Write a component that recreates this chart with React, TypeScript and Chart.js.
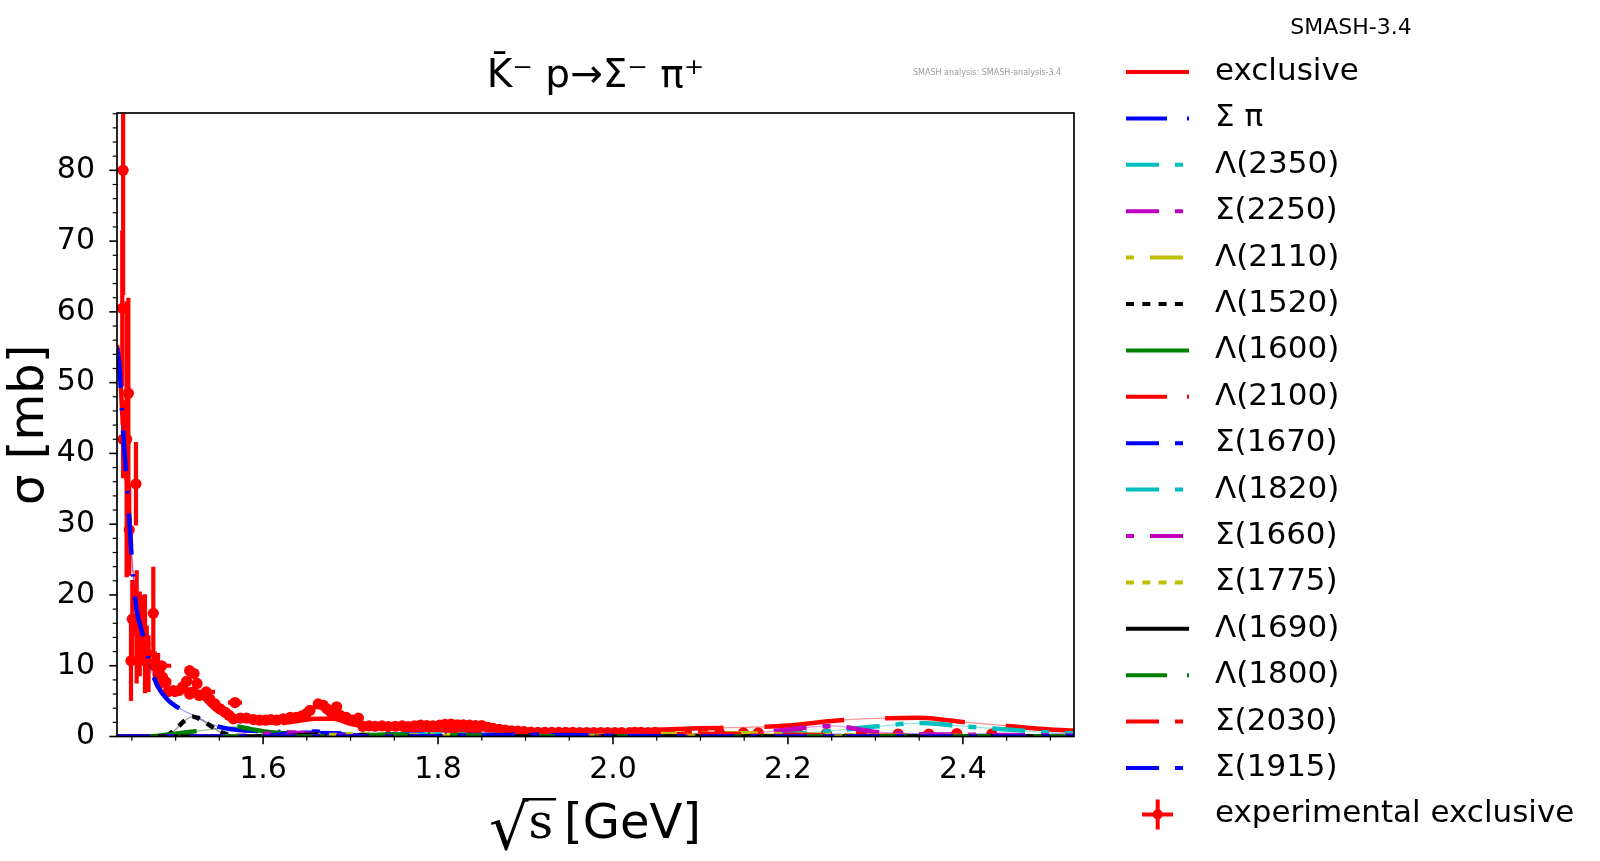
import { useEffect, useRef } from "react"
import { Chart, registerables } from "chart.js"

Chart.register(...registerables)

// sqrt(s) grid of the model curves [GeV]
const energies = [
  1.433, 1.436, 1.44, 1.445, 1.45, 1.455, 1.46, 1.465, 1.47, 1.48,
  1.49, 1.5, 1.51, 1.52, 1.53, 1.54, 1.55, 1.56, 1.57, 1.58,
  1.59, 1.6, 1.62, 1.64, 1.66, 1.68, 1.7, 1.72, 1.75, 1.8,
  1.85, 1.9, 1.95, 2.0, 2.05, 2.1, 2.15, 2.2, 2.25, 2.3,
  2.35, 2.4, 2.45, 2.5, 2.527,
]

// model cross sections [mb]
const exclusive = [
  55.3, 52.4, 43.5, 35.0, 25.5, 18.7, 16.0, 13.7, 10.7, 7.5,
  5.9, 5.9, 6.5, 6.7, 5.7, 4.4, 3.4, 2.9, 2.6, 2.3,
  2.0, 1.9, 1.9, 2.2, 2.5, 2.5, 1.8, 1.3, 1.0, 0.9,
  0.7, 0.6, 0.6, 0.65, 0.95, 1.15, 1.3, 1.55, 2.2, 2.55,
  2.65, 2.05, 1.5, 1.0, 0.85,
]
const sigmaPi = [
  55.0, 52.0, 43.0, 34.5, 25.0, 18.2, 15.5, 13.2, 10.2, 7.0,
  5.3, 4.3, 3.6, 3.0, 2.4, 1.8, 1.35, 1.1, 0.95, 0.85,
  0.8, 0.75, 0.65, 0.55, 0.5, 0.45, 0.4, 0.35, 0.3, 0.25,
  0.2, 0.18, 0.15, 0.13, 0.12, 0.11, 0.1, 0.09, 0.08, 0.08,
  0.07, 0.07, 0.06, 0.06, 0.06,
]
const lambda2350 = [
  0, 0, 0, 0, 0, 0, 0, 0, 0, 0,
  0, 0, 0, 0, 0, 0, 0, 0, 0, 0,
  0, 0, 0, 0, 0, 0, 0, 0, 0, 0,
  0, 0, 0.01, 0.02, 0.04, 0.08, 0.15, 0.35, 0.8, 1.4,
  1.9, 1.45, 1.0, 0.55, 0.45,
]
const sigma2250 = [
  0, 0, 0, 0, 0, 0, 0, 0, 0, 0,
  0, 0, 0, 0, 0, 0, 0, 0, 0, 0,
  0, 0, 0, 0, 0, 0, 0, 0, 0, 0,
  0, 0, 0, 0.02, 0.05, 0.12, 0.3, 1.0, 1.5, 0.65,
  0.35, 0.25, 0.2, 0.15, 0.12,
]
const lambda2110 = [
  0, 0, 0, 0, 0, 0, 0, 0, 0, 0,
  0, 0, 0, 0, 0, 0, 0, 0, 0, 0,
  0, 0, 0, 0, 0, 0, 0, 0, 0, 0,
  0, 0, 0.05, 0.15, 0.3, 0.45, 0.45, 0.3, 0.2, 0.12,
  0.08, 0.06, 0.05, 0.04, 0.04,
]
const lambda1520 = [
  0, 0, 0, 0, 0, 0, 0, 0, 0, 0.05,
  0.2, 1.0, 2.2, 2.8, 2.3, 1.5, 0.7, 0.25, 0.1, 0.05,
  0, 0, 0, 0, 0, 0, 0, 0, 0, 0,
  0, 0, 0, 0, 0, 0, 0, 0, 0, 0,
  0, 0, 0, 0, 0,
]
const lambda1600 = [
  0, 0, 0, 0, 0, 0, 0, 0, 0, 0.1,
  0.25, 0.4, 0.55, 0.7, 0.85, 1.0, 1.15, 1.3, 1.4, 1.2,
  0.95, 0.75, 0.5, 0.35, 0.25, 0.2, 0.15, 0.12, 0.1, 0.07,
  0.05, 0.04, 0.04, 0.03, 0.03, 0.03, 0.02, 0.02, 0.02, 0.02,
  0.02, 0.02, 0.02, 0.02, 0.02,
]
const lambda2100 = [
  0, 0, 0, 0, 0, 0, 0, 0, 0, 0,
  0, 0, 0, 0, 0, 0, 0, 0, 0, 0,
  0, 0, 0, 0, 0, 0, 0, 0, 0, 0,
  0, 0, 0.05, 0.15, 0.3, 0.4, 0.35, 0.25, 0.15, 0.1,
  0.07, 0.05, 0.04, 0.03, 0.03,
]
const sigma1670 = [
  0, 0, 0, 0, 0, 0, 0, 0, 0, 0,
  0, 0, 0, 0, 0, 0, 0, 0, 0, 0,
  0, 0.1, 0.3, 0.55, 0.7, 0.45, 0.2, 0.1, 0.05, 0.02,
  0, 0, 0, 0, 0, 0, 0, 0, 0, 0,
  0, 0, 0, 0, 0,
]
const lambda1820 = [
  0, 0, 0, 0, 0, 0, 0, 0, 0, 0,
  0, 0, 0, 0, 0, 0, 0, 0, 0, 0,
  0, 0, 0, 0, 0, 0, 0, 0, 0.1, 0.3,
  0.25, 0.12, 0.06, 0, 0, 0, 0, 0, 0, 0,
  0, 0, 0, 0, 0,
]
const sigma1660 = [
  0, 0, 0, 0, 0, 0, 0, 0, 0, 0,
  0, 0, 0, 0, 0, 0, 0, 0, 0, 0.1,
  0.2, 0.35, 0.6, 0.5, 0.3, 0.15, 0.08, 0.04, 0, 0,
  0, 0, 0, 0, 0, 0, 0, 0, 0, 0,
  0, 0, 0, 0, 0,
]
const sigma1775 = [
  0, 0, 0, 0, 0, 0, 0, 0, 0, 0,
  0, 0, 0, 0, 0, 0, 0, 0, 0, 0,
  0, 0, 0, 0, 0.1, 0.2, 0.3, 0.3, 0.25, 0.12,
  0.06, 0, 0, 0, 0, 0, 0, 0, 0, 0,
  0, 0, 0, 0, 0,
]
const lambda1690 = [
  0, 0, 0, 0, 0, 0, 0, 0, 0, 0,
  0, 0, 0, 0, 0, 0, 0, 0, 0, 0,
  0, 0, 0.05, 0.15, 0.3, 0.35, 0.3, 0.15, 0.07, 0,
  0, 0, 0, 0, 0, 0, 0, 0, 0, 0,
  0, 0, 0, 0, 0,
]
const lambda1800 = [
  0, 0, 0, 0, 0, 0, 0, 0, 0, 0,
  0, 0, 0, 0, 0, 0, 0, 0, 0, 0,
  0, 0, 0, 0, 0, 0, 0.1, 0.2, 0.3, 0.25,
  0.12, 0.06, 0, 0, 0, 0, 0, 0, 0, 0,
  0, 0, 0, 0, 0,
]
const sigma2030 = [
  0, 0, 0, 0, 0, 0, 0, 0, 0, 0,
  0, 0, 0, 0, 0, 0, 0, 0, 0, 0,
  0, 0, 0, 0, 0, 0, 0, 0, 0, 0,
  0, 0, 0.1, 0.25, 0.35, 0.25, 0.12, 0.06, 0, 0,
  0, 0, 0, 0, 0,
]
const sigma1915 = [
  0, 0, 0, 0, 0, 0, 0, 0, 0, 0,
  0, 0, 0, 0, 0, 0, 0, 0, 0, 0,
  0, 0, 0, 0, 0, 0, 0, 0, 0, 0.05,
  0.15, 0.25, 0.2, 0.1, 0.05, 0, 0, 0, 0, 0,
  0, 0, 0, 0, 0,
]

const seriesLabels = [
  "exclusive", "Σ π", "Λ(2350)", "Σ(2250)", "Λ(2110)", "Λ(1520)", "Λ(1600)", "Λ(2100)",
  "Σ(1670)", "Λ(1820)", "Σ(1660)", "Σ(1775)", "Λ(1690)", "Λ(1800)", "Σ(2030)", "Σ(1915)",
]
const seriesValues = [
  exclusive, sigmaPi, lambda2350, sigma2250, lambda2110, lambda1520, lambda1600, lambda2100,
  sigma1670, lambda1820, sigma1660, sigma1775, lambda1690, lambda1800, sigma2030, sigma1915,
]

// experimental exclusive data
const expEnergy = [
  1.44, 1.439, 1.446, 1.44, 1.444, 1.4547, 1.447, 1.4505, 1.449, 1.4745,
  1.4555, 1.459, 1.461, 1.465, 1.467, 1.469, 1.4764, 1.48, 1.484, 1.485,
  1.482, 1.489, 1.491, 1.497, 1.504, 1.508, 1.5126, 1.516, 1.521, 1.5245,
  1.516, 1.527, 1.535, 1.539, 1.545, 1.551, 1.557, 1.561, 1.5679, 1.566,
  1.574, 1.581, 1.589, 1.596, 1.603, 1.609, 1.6155, 1.623, 1.631, 1.638,
  1.644, 1.649, 1.6536, 1.663, 1.669, 1.673, 1.678, 1.684, 1.688, 1.695,
  1.702, 1.709, 1.714, 1.721, 1.728, 1.736, 1.743, 1.751, 1.759, 1.766,
  1.773, 1.78, 1.787, 1.794, 1.802, 1.808, 1.815, 1.822, 1.829, 1.836,
  1.843, 1.85, 1.857, 1.863, 1.87, 1.877, 1.884, 1.891, 1.898, 1.906,
  1.914, 1.922, 1.93, 1.938, 1.946, 1.954, 1.962, 1.97, 1.978, 1.986,
  1.994, 2.002, 2.01, 2.019, 2.025, 2.032, 2.04, 2.048, 2.065, 2.084,
  2.103, 2.122, 2.149, 2.166, 2.206, 2.212, 2.244, 2.284, 2.326, 2.361,
  2.393, 2.433,
]
const expSigma = [
  80.0, 60.5, 48.5, 42.0, 42.0, 35.7, 29.2, 16.6, 10.7, 17.4,
  15.5, 14.5, 15.0, 13.1, 11.7, 10.3, 10.0, 9.8, 10.0, 8.4,
  7.5, 7.7, 6.3, 6.5, 6.5, 7.0, 7.8, 9.3, 8.9, 7.5,
  6.0, 5.8, 6.3, 5.3, 4.6, 3.9, 3.4, 3.0, 4.8, 2.5,
  2.6, 2.6, 2.4, 2.3, 2.3, 2.4, 2.3, 2.5, 2.7, 2.7,
  2.9, 3.2, 3.7, 4.6, 4.4, 3.9, 3.4, 4.2, 3.0, 2.7,
  2.3, 2.6, 1.45, 1.5, 1.45, 1.5, 1.4, 1.45, 1.5, 1.4,
  1.5, 1.6, 1.55, 1.5, 1.6, 1.7, 1.75, 1.65, 1.65, 1.6,
  1.55, 1.55, 1.3, 1.15, 1.0, 0.9, 0.8, 0.75, 0.7, 0.62,
  0.6, 0.6, 0.58, 0.58, 0.57, 0.57, 0.56, 0.56, 0.55, 0.55,
  0.55, 0.55, 0.55, 0.55, 0.6, 0.6, 0.55, 0.6, 0.45, 0.45,
  0.4, 0.45, 0.5, 0.5, 0.4, 0.4, 0.4, 0.4, 0.35, 0.35,
  0.4, 0.35,
]
const expSigmaErr = [
  17.6, 11.0, 13.5, 5.5, 19.5, 5.9, 6.5, 5.5, 5.7, 6.6,
  8.0, 6.0, 5.0, 7.0, 4.0, 4.0, 2.0, 2.0, 0.4, 1.0,
  1.0, 0.8, 0.5, 0.5, 0.5, 0.5, 0.5, 0.5, 0.5, 0.5,
  0.4, 0.4, 0.4, 0.4, 0.3, 0.3, 0.3, 0.3, 0.4, 0.2,
  0.2, 0.2, 0.2, 0.2, 0.2, 0.2, 0.2, 0.2, 0.2, 0.2,
  0.2, 0.2, 0.2, 0.2, 0.2, 0.2, 0.2, 0.2, 0.2, 0.2,
  0.2, 0.2, 0.1, 0.1, 0.1, 0.1, 0.1, 0.1, 0.1, 0.1,
  0.1, 0.1, 0.1, 0.1, 0.1, 0.1, 0.1, 0.1, 0.1, 0.1,
  0.1, 0.1, 0.1, 0.1, 0.1, 0.1, 0.1, 0.1, 0.1, 0.1,
  0.1, 0.1, 0.1, 0.1, 0.1, 0.1, 0.1, 0.1, 0.1, 0.1,
  0.1, 0.1, 0.1, 0.1, 0.1, 0.1, 0.1, 0.1, 0.1, 0.1,
  0.1, 0.1, 0.1, 0.1, 0.1, 0.1, 0.1, 0.1, 0.1, 0.1,
  0.1, 0.1,
]
const expEnergyErr = [
  0, 0, 0, 0, 0, 0, 0, 0, 0, 0,
  0, 0, 0, 0, 0, 0, 0, 0, 0.011, 0,
  0, 0, 0, 0, 0, 0, 0, 0, 0, 0,
  0, 0, 0.01, 0, 0, 0, 0, 0, 0.008, 0,
  0, 0, 0, 0, 0, 0, 0, 0, 0, 0,
  0, 0, 0, 0, 0, 0, 0, 0, 0, 0,
  0, 0, 0, 0, 0, 0, 0, 0, 0, 0,
  0, 0, 0, 0, 0, 0, 0, 0, 0, 0,
  0, 0, 0, 0, 0, 0, 0, 0, 0, 0,
  0, 0, 0, 0, 0, 0, 0, 0, 0, 0,
  0, 0, 0, 0, 0, 0, 0, 0, 0, 0,
  0, 0, 0, 0, 0, 0, 0, 0, 0, 0,
  0, 0,
]

const xTicks = [1.6, 1.8, 2.0, 2.2, 2.4]
const yTicks = [0, 10, 20, 30, 40, 50, 60, 70, 80]

// styles
const RED = "#ff0000"
const BLUE = "#0000ff"
const CYAN = "#00bfbf"
const MAGENTA = "#bf00bf"
const OLIVE = "#bfbf00"
const BLACK = "#000000"
const GREEN = "#008000"

const SOLID: number[] = []
const DASHDOT = [41, 20, 2.3, 20]
const DASHDOT2 = [33, 16, 8, 16]
const DOTDASH = [8, 16, 33, 16]
const DOTTED = [8, 8.3]
const LONGDASH = [80, 41]

const seriesColors = [RED, BLUE, CYAN, MAGENTA, OLIVE, BLACK, GREEN, RED, BLUE, CYAN, MAGENTA, OLIVE, BLACK, GREEN, RED, BLUE]
const legendDashes = [SOLID, DASHDOT, DASHDOT2, DASHDOT2, DOTDASH, DOTTED, SOLID, DASHDOT, DASHDOT2, DASHDOT2, DOTDASH, DOTTED, SOLID, DASHDOT, DASHDOT2, DASHDOT2]

const FONT = "'DejaVu Sans'"

function faded(hex: string, a: number) {
  const n = parseInt(hex.slice(1), 16)
  return `rgba(${(n >> 16) & 255},${(n >> 8) & 255},${n & 255},${a})`
}

const decorPlugin = {
  id: "decor",
  beforeDatasetsDraw(chart: any) {
    // error bars of the experimental data
    const { ctx, chartArea: a, scales } = chart
    const xs = scales.x
    const ys = scales.y
    ctx.save()
    ctx.beginPath()
    ctx.rect(a.left, a.top, a.right - a.left, a.bottom - a.top)
    ctx.clip()
    ctx.strokeStyle = RED
    ctx.lineWidth = 4.2
    expEnergy.forEach((e, i) => {
      const px = xs.getPixelForValue(e)
      const py = ys.getPixelForValue(expSigma[i])
      ctx.beginPath()
      ctx.moveTo(px, ys.getPixelForValue(expSigma[i] - expSigmaErr[i]))
      ctx.lineTo(px, ys.getPixelForValue(expSigma[i] + expSigmaErr[i]))
      if (expEnergyErr[i] > 0) {
        ctx.moveTo(xs.getPixelForValue(e - expEnergyErr[i]), py)
        ctx.lineTo(xs.getPixelForValue(e + expEnergyErr[i]), py)
      }
      ctx.stroke()
    })
    ctx.restore()
  },
  afterDatasetsDraw(chart: any) {
    const { ctx, chartArea: a, scales } = chart
    const xs = scales.x
    const ys = scales.y
    ctx.save()
    ctx.strokeStyle = BLACK
    ctx.lineWidth = 1.7
    ctx.strokeRect(a.left, a.top, a.right - a.left, a.bottom - a.top)

    // y ticks, minor every 2 mb
    for (let v = 0; v <= 88; v += 2) {
      const py = ys.getPixelForValue(v)
      const len = v % 10 === 0 ? 7.7 : 4.3
      ctx.lineWidth = v % 10 === 0 ? 1.6 : 1.2
      ctx.beginPath()
      ctx.moveTo(a.left, py)
      ctx.lineTo(a.left - len, py)
      ctx.stroke()
    }
    // x ticks, minor every 0.05 GeV
    for (let k = 29; k <= 50; k++) {
      const px = xs.getPixelForValue(k * 0.05)
      const major = k % 4 === 0
      ctx.lineWidth = major ? 1.6 : 1.2
      ctx.beginPath()
      ctx.moveTo(px, a.bottom)
      ctx.lineTo(px, a.bottom + (major ? 7.7 : 4.3))
      ctx.stroke()
    }
    ctx.restore()
  },
  afterDraw(chart: any) {
    const { ctx, chartArea: a } = chart
    ctx.save()
    ctx.fillStyle = BLACK
    ctx.textBaseline = "middle"

    // title
    ctx.textAlign = "center"
    ctx.font = `39px ${FONT}`
    ctx.fillText("K\u0304\u207B p\u2192\u03A3\u207B \u03C0\u207A", (a.left + a.right) / 2, 77)

    ctx.font = `22px ${FONT}`
    ctx.fillText("SMASH-3.4", 1351, 28)

    ctx.textAlign = "left"
    ctx.fillStyle = "#999999"
    ctx.font = `8px ${FONT}`
    ctx.fillText("SMASH analysis: SMASH-analysis-3.4", 913, 73)
    ctx.fillStyle = BLACK

    // y axis title
    ctx.save()
    ctx.translate(31, (a.top + a.bottom) / 2)
    ctx.rotate(-Math.PI / 2)
    ctx.textAlign = "center"
    ctx.font = `48px ${FONT}`
    ctx.fillText("σ [mb]", 0, 0)
    ctx.restore()

    // x axis title: sqrt(s) [GeV]
    ctx.textBaseline = "alphabetic"
    ctx.textAlign = "left"
    const base = 838
    ctx.font = `62px ${FONT}`
    const rad = ctx.measureText("√")
    ctx.fillText("√", 489, base + 11)
    const radTop = base + 11 - rad.actualBoundingBoxAscent
    const sx = 489 + rad.width - 2
    ctx.font = `48px 'DejaVu Serif'`
    const sw = ctx.measureText("s").width
    ctx.fillText("s", sx + 2, base)
    ctx.lineWidth = 2.6
    ctx.strokeStyle = BLACK
    ctx.beginPath()
    ctx.moveTo(sx - 4, radTop + 1.3)
    ctx.lineTo(sx + sw + 5, radTop + 1.3)
    ctx.stroke()
    ctx.font = `48px ${FONT}`
    ctx.fillText("[GeV]", 564, base)

    // legend
    ctx.textBaseline = "middle"
    ctx.font = `31px ${FONT}`
    const rowY = (i: number) => 72 + i * 46.4
    seriesLabels.forEach((label, i) => {
      const y = rowY(i)
      ctx.strokeStyle = seriesColors[i]
      ctx.lineWidth = 4
      ctx.lineCap = "butt"
      ctx.setLineDash(legendDashes[i])
      ctx.beginPath()
      ctx.moveTo(1126, y)
      ctx.lineTo(1189, y)
      ctx.stroke()
      ctx.setLineDash([])
      ctx.fillStyle = BLACK
      ctx.fillText(label, 1215, y)
    })
    const ey = rowY(seriesLabels.length)
    ctx.strokeStyle = RED
    ctx.fillStyle = RED
    ctx.lineWidth = 4
    ctx.beginPath()
    ctx.moveTo(1157.7, ey - 15)
    ctx.lineTo(1157.7, ey + 15)
    ctx.moveTo(1142, ey)
    ctx.lineTo(1173, ey)
    ctx.stroke()
    ctx.beginPath()
    ctx.arc(1157.7, ey, 5, 0, Math.PI * 2)
    ctx.fill()
    ctx.fillStyle = BLACK
    ctx.fillText("experimental exclusive", 1215, ey)
    ctx.restore()
  },
}

export default function App() {
  const chartRef = useRef<HTMLCanvasElement>(null)
  const chartInstance = useRef<Chart | null>(null)

  useEffect(() => {
    if (!chartRef.current) return
    if (chartInstance.current) chartInstance.current.destroy()
    const ctx = chartRef.current.getContext("2d")
    if (!ctx) return

    const toPoints = (values: number[]) => values.map((v, i) => ({ x: energies[i], y: v }))

    // thin underlay of every curve
    const thinSets = seriesValues.map((values, i) => ({
      label: seriesLabels[i] + " thin",
      data: toPoints(values),
      borderColor: faded(seriesColors[i], 0.4),
      borderWidth: 1.3,
      pointRadius: 0,
      fill: false,
      cubicInterpolationMode: "monotone" as const,
      clip: 0,
      order: 60,
    }))

    // thick dashed curves
    const thickSets = seriesValues.map((values, i) => ({
      label: seriesLabels[i],
      data: toPoints(values),
      borderColor: seriesColors[i],
      borderWidth: 4.5,
      borderDash: legendDashes[i].length ? legendDashes[i] : LONGDASH,
      borderCapStyle: "butt" as const,
      pointRadius: 0,
      fill: false,
      cubicInterpolationMode: "monotone" as const,
      clip: 0,
      order: 40 - i,
    }))

    const dataSet = {
      label: "experimental exclusive",
      data: expEnergy.map((e, i) => ({ x: e, y: expSigma[i] })),
      showLine: false,
      pointRadius: 5.6,
      pointBackgroundColor: RED,
      pointBorderWidth: 0,
      borderColor: RED,
      clip: 0,
      order: 100,
    }

    chartInstance.current = new Chart(ctx, {
      type: "line",
      data: { datasets: [...thickSets, ...thinSets, dataSet] as any },
      options: {
        animation: false,
        responsive: true,
        maintainAspectRatio: false,
        layout: { padding: { left: 0, top: 113, right: 526, bottom: 0 } },
        plugins: {
          legend: { display: false },
          title: { display: false },
          tooltip: { enabled: false },
        },
        scales: {
          x: {
            type: "linear",
            min: 1.433,
            max: 2.527,
            grid: { display: false, drawTicks: false },
            border: { display: false },
            afterBuildTicks: (scale: any) => {
              scale.ticks = xTicks.map((v) => ({ value: v }))
            },
            afterFit: (scale: any) => {
              scale.height = 124.5
            },
            ticks: {
              color: BLACK,
              font: { family: "DejaVu Sans", size: 30 },
              padding: 16,
              maxRotation: 0,
              autoSkip: false,
              callback: (value: any) => Number(value).toFixed(1),
            },
          },
          y: {
            type: "linear",
            min: 0,
            max: 88.1,
            grid: { display: false, drawTicks: false },
            border: { display: false },
            afterBuildTicks: (scale: any) => {
              scale.ticks = yTicks.map((v) => ({ value: v }))
            },
            afterFit: (scale: any) => {
              scale.width = 117
            },
            ticks: {
              color: BLACK,
              font: { family: "DejaVu Sans", size: 30 },
              padding: 22,
              autoSkip: false,
              callback: (value: any) => String(value),
            },
          },
        },
      },
      plugins: [decorPlugin],
    })

    return () => {
      if (chartInstance.current) {
        chartInstance.current.destroy()
        chartInstance.current = null
      }
    }
  }, [])

  return (
    <div style={{ position: "absolute", left: 0, top: 0, width: 1600, height: 861, background: "#ffffff" }}>
      <canvas ref={chartRef}></canvas>
    </div>
  )
}
